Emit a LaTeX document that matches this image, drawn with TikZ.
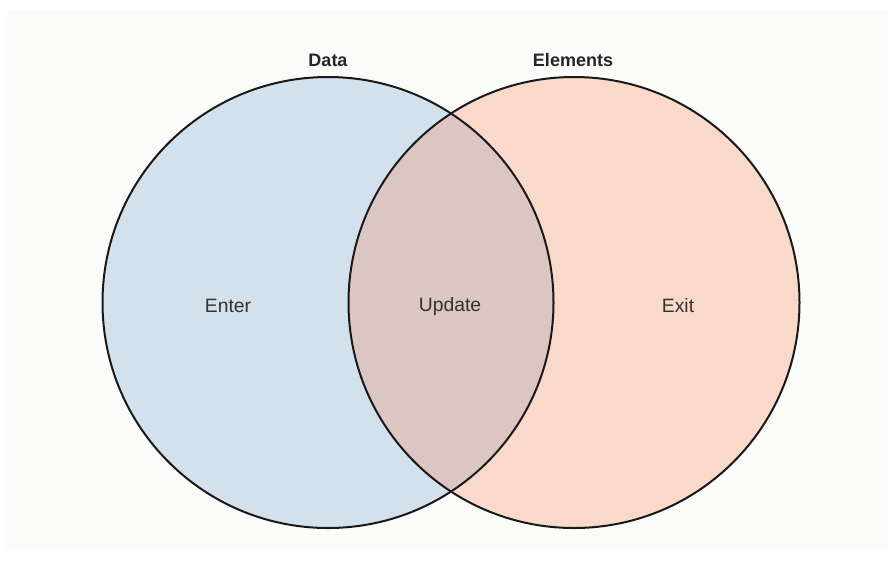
\documentclass[tikz,border=0pt]{standalone}
\usepackage{fontspec}
\setmainfont{Liberation Sans}
\usetikzlibrary{positioning}

\definecolor{paper}{HTML}{FBFBF9}
\definecolor{datafill}{HTML}{D2E1EC}
\definecolor{elemfill}{HTML}{F8D9CA}
\definecolor{bothfill}{HTML}{DCC6C3}
\definecolor{labeltext}{HTML}{333333}

\begin{document}
\begin{tikzpicture}[x=0.75pt,y=-0.75pt,
    ring/.style={draw=black!90,line width=1.5pt},
    title/.style={font=\fontsize{13.5}{16}\selectfont\bfseries,text=black!85,anchor=base,inner sep=0pt},
    part/.style={font=\fontsize{14.5}{17}\selectfont,text=labeltext,anchor=base,inner sep=0pt}]
    \useasboundingbox (0,0) rectangle (895,561);
    \fill[paper] (7,10) rectangle (888,551);
    %
    \coordinate (data) at (328,302.5);
    \coordinate (elem) at (574,302.5);
    %
    \fill[datafill] (data) circle[radius=225.5];
    \fill[elemfill] (elem) circle[radius=225.5];
    \begin{scope}
        \clip (data) circle[radius=225.5];
        \fill[bothfill] (elem) circle[radius=225.5];
    \end{scope}
    \draw[ring] (data) circle[radius=225.5];
    \draw[ring] (elem) circle[radius=225.5];
    %
    \node[title] (dataname) at (328,66) {Data};
    \node[title] (elemname) at (573,66) {Elements};
    %
    \node[part] (enter) at (228,312) {Enter};
    \node[part] (update) at (450,311) {Update};
    \node[part] (exit) at (678,312) {Exit};
    %
\end{tikzpicture}
\end{document}
